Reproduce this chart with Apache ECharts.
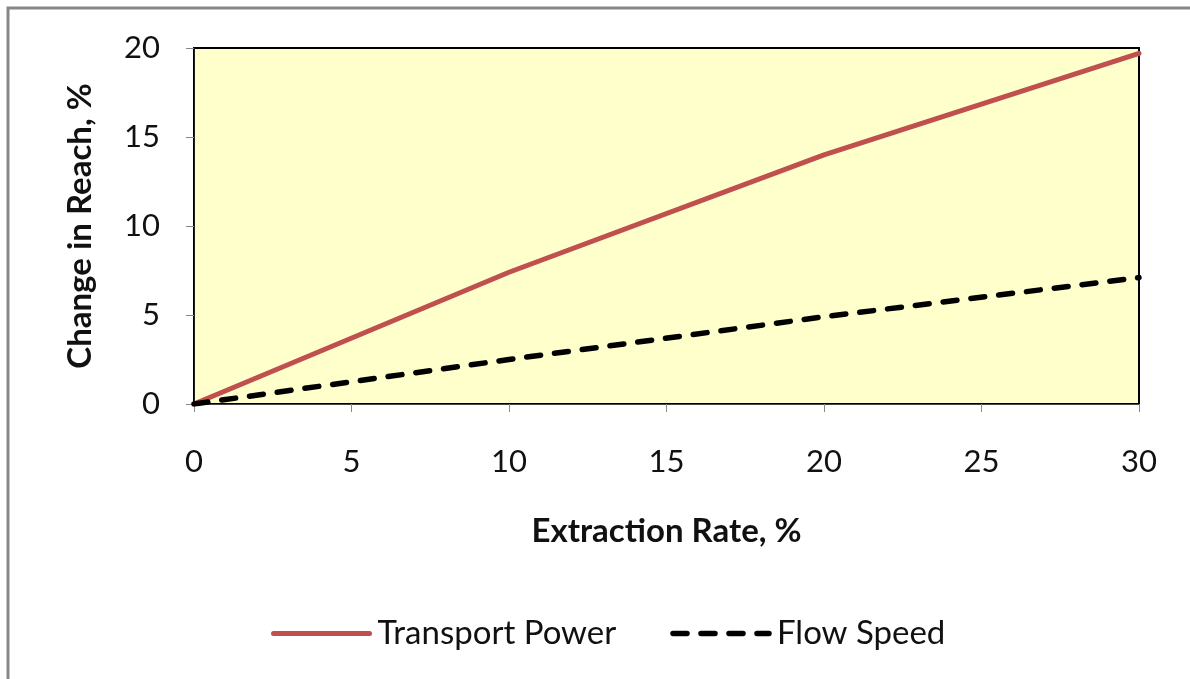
<!DOCTYPE html>
<html>
<head>
<meta charset="utf-8">
<script src="https://cdn.jsdelivr.net/npm/echarts@6/dist/echarts.min.js"></script>
<style>
  html, body { margin: 0; padding: 0; background: #fff; }
  #chart { width: 1190px; height: 679px; }
</style>
</head>
<body>
<div id="chart"></div>
<script>
// extraction rate, %
const extractionRate = [0, 10, 20, 30]
// change in reach, %
const transportPower = [0, 7.4, 14.0, 19.7]
const flowSpeed = [0, 2.5, 4.9, 7.1]

const font = 'Lato, "Open Sans", sans-serif'

const chart = echarts.init(document.getElementById('chart'))

const option = {
  animation: false,
  textStyle: { fontFamily: font },
  graphic: [{
    type: 'rect',
    shape: { x: 8, y: 8, width: 1200, height: 700 },
    style: { fill: 'none', stroke: '#878787', lineWidth: 3 },
    silent: true
  }],
  grid: {
    left: 194,
    right: 51,
    top: 48,
    bottom: 275,
    show: true,
    backgroundColor: '#FFFFCC',
    borderColor: '#000',
    borderWidth: 2
  },
  legend: {
    left: 266,
    top: 612,
    itemWidth: 96,
    itemHeight: 14,
    itemGap: 54,
    itemStyle: { opacity: 0 },
    lineStyle: { width: 'inherit', type: 'inherit', cap: 'round' },
    textStyle: { fontSize: 33, color: '#111', fontFamily: font, padding: [0, 0, 0, 3] },
    data: ['Transport Power', 'Flow Speed']
  },
  xAxis: {
    type: 'value',
    min: 0,
    max: 30,
    interval: 5,
    name: 'Extraction Rate, %',
    nameLocation: 'middle',
    nameGap: 111,
    nameTextStyle: { fontSize: 33, fontWeight: 'bold', color: '#111', fontFamily: font },
    axisLine: { lineStyle: { color: '#444', width: 1 } },
    axisTick: { show: true, length: 8, lineStyle: { color: '#888' } },
    axisLabel: { fontSize: 31, color: '#111', margin: 42 },
    splitLine: { show: false }
  },
  yAxis: {
    type: 'value',
    min: 0,
    max: 20,
    interval: 5,
    name: 'Change in Reach, %',
    nameLocation: 'middle',
    nameGap: 97,
    nameTextStyle: { fontSize: 33, fontWeight: 'bold', color: '#111', fontFamily: font },
    axisLine: { show: true, lineStyle: { color: '#222', width: 1 } },
    axisTick: { show: true, length: 8, lineStyle: { color: '#888' } },
    axisLabel: { fontSize: 31, color: '#111', margin: 34 },
    splitLine: { show: false }
  },
  series: [
    {
      name: 'Transport Power',
      type: 'line',
      data: extractionRate.map((x, i) => [x, transportPower[i]]),
      symbol: 'none',
      lineStyle: { color: '#C0504D', width: 5, cap: 'round' },
      itemStyle: { color: '#C0504D' }
    },
    {
      name: 'Flow Speed',
      type: 'line',
      data: extractionRate.map((x, i) => [x, flowSpeed[i]]),
      symbol: 'none',
      lineStyle: { color: '#000', width: 5.5, type: [14, 14], cap: 'round' },
      itemStyle: { color: '#000' }
    }
  ]
}

chart.setOption(option)
</script>
</body>
</html>
